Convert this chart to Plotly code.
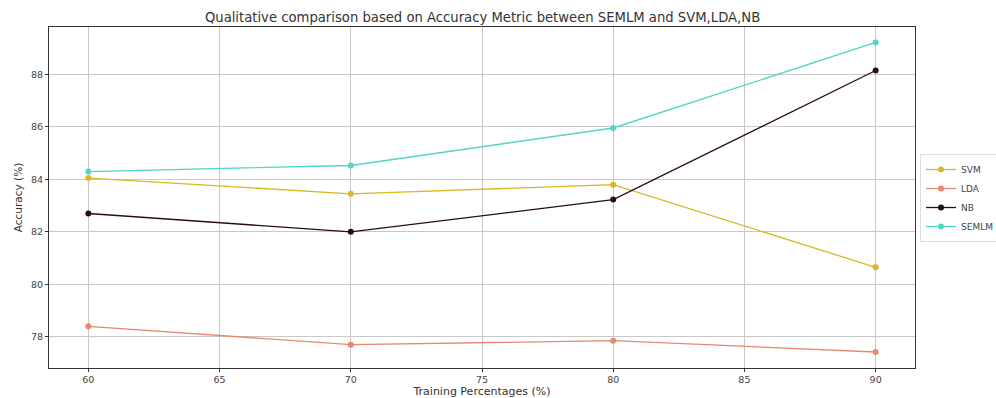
import plotly.graph_objects as go

# Training split percentages and accuracy per model
train_pct = [60, 70, 80, 90]
svm_acc = [84.05, 83.45, 83.8, 80.65]
lda_acc = [78.4, 77.7, 77.85, 77.42]
nb_acc = [82.7, 82.0, 83.23, 88.15]
semlm_acc = [84.3, 84.53, 85.96, 89.22]

x_ticks = [60, 65, 70, 75, 80, 85, 90]
y_ticks = [78, 80, 82, 84, 86, 88]

series = [
    ("SVM", svm_acc, "#d9b826"),
    ("LDA", lda_acc, "#e58a6e"),
    ("NB", nb_acc, "#2b0a1c"),
    ("SEMLM", semlm_acc, "#4fd6c6"),
]

fig = go.Figure()
for name, vals, color in series:
    fig.add_trace(go.Scatter(
        x=train_pct, y=vals, name=name, mode="lines+markers",
        line=dict(color=color, width=1.3),
        marker=dict(color=color, size=6),
    ))

axis_common = dict(
    showgrid=True, gridcolor="#c8c8c8", gridwidth=1,
    showline=True, linecolor="#333333", linewidth=1, mirror=True,
    ticks="outside", ticklen=3, tickcolor="#333333",
    tickfont=dict(size=9.5, color="#444444"),
    zeroline=False,
)

fig.update_layout(
    width=996, height=398,
    margin=dict(l=49, r=81, t=27, b=30, autoexpand=False),
    paper_bgcolor="white", plot_bgcolor="white",
    font=dict(family="DejaVu Sans", color="#333333"),
    title=dict(
        text="Qualitative comparison based on Accuracy Metric between SEMLM and SVM,LDA,NB",
        x=0.4845, xanchor="center", y=0.957, yanchor="middle",
        font=dict(size=13.2, color="#333333"),
    ),
    xaxis=dict(
        range=[58.5, 91.5], tickvals=x_ticks,
        title=dict(text="Training Percentages (%)", font=dict(size=11), standoff=2),
        **axis_common,
    ),
    yaxis=dict(
        range=[76.81, 89.81], tickvals=y_ticks,
        title=dict(text="Accuracy (%)", font=dict(size=10.5), standoff=6),
        **axis_common,
    ),
    legend=dict(
        x=1.0058, xanchor="left", y=0.4985, yanchor="middle",
        bgcolor="white", bordercolor="#dddddd", borderwidth=1,
        font=dict(size=9, color="#444444"),
        tracegroupgap=0, itemwidth=30,
    ),
)

fig.write_html("out.html")
